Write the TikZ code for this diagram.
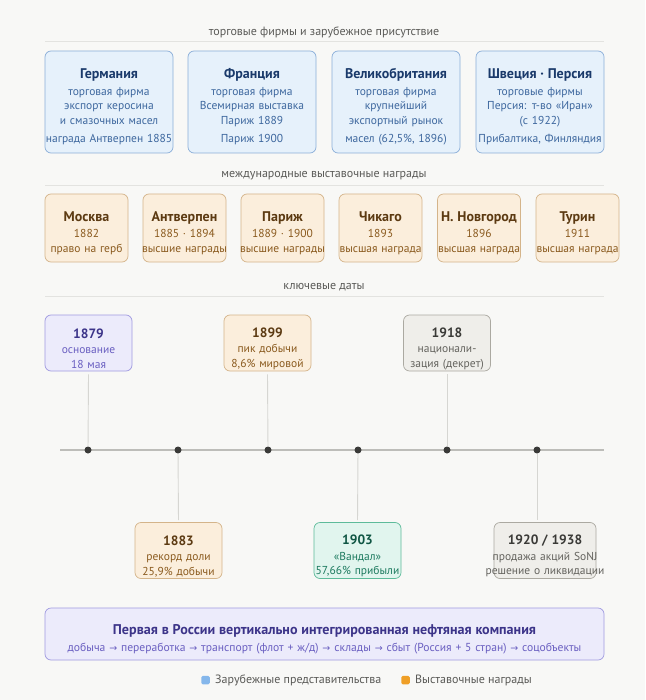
\documentclass[tikz,border=0pt]{standalone}
\usepackage{fontspec}
\setmainfont{PT Sans}
\newfontfamily\pfeilfont{DejaVu Sans}
\usetikzlibrary{positioning}
\definecolor{papier}{HTML}{F8F8F6}
\definecolor{kopftext}{HTML}{5A5A57}
\definecolor{linie}{HTML}{E3E3E0}
\definecolor{achse}{HTML}{BDBDB9}
\definecolor{stiel}{HTML}{D6D6D2}
\definecolor{punkt}{HTML}{3A3A38}
\definecolor{blaufill}{HTML}{E6F1FB}
\definecolor{blaurand}{HTML}{8AAED8}
\definecolor{blautitel}{HTML}{1A3A6B}
\definecolor{blautext}{HTML}{3D679E}
\definecolor{orangefill}{HTML}{FBEEDC}
\definecolor{orangerand}{HTML}{D4B48A}
\definecolor{orangetitel}{HTML}{5C3A12}
\definecolor{orangetext}{HTML}{8A5A1E}
\definecolor{lilafill}{HTML}{ECEBFB}
\definecolor{lilarand}{HTML}{A09AE0}
\definecolor{lilatitel}{HTML}{3C3489}
\definecolor{lilatext}{HTML}{6A5FC1}
\definecolor{gruenfill}{HTML}{E1F5EE}
\definecolor{gruenrand}{HTML}{5DBB9A}
\definecolor{gruentitel}{HTML}{0F5543}
\definecolor{gruentext}{HTML}{1D7A5F}
\definecolor{graufill}{HTML}{EFEEEA}
\definecolor{graurand}{HTML}{ABA9A1}
\definecolor{grautitel}{HTML}{3A3A37}
\definecolor{grautext}{HTML}{64635E}
\definecolor{legblau}{HTML}{85B7EB}
\definecolor{legorange}{HTML}{EF9F27}
\newcommand{\titel}[2]{{\rule{0pt}{20pt}\fontsize{14}{16}\selectfont\bfseries\color{#1}#2}}
\newcommand{\datum}[2]{{\rule{0pt}{21pt}\fontsize{13.5}{16}\selectfont\bfseries\color{#1}#2}}
\newcommand{\breit}[1]{\makebox[\hsize]{#1}}
\newcommand{\pf}{{\pfeilfont\fontsize{9.5}{11}\selectfont →}}

\begin{document}
\begin{tikzpicture}[x=1pt, y=-1pt, font=\fontsize{11.5}{14.5}\selectfont]

    % --- Definition der Stile ---
    \tikzset{
        card/.style={rectangle, rounded corners=6pt, line width=0.7pt, align=center, inner sep=0pt},
        firmcard/.style={card, fill=blaufill, draw=blaurand, text=blautext, minimum width=128pt, minimum height=102pt, text width=126pt},
        awardcard/.style={card, fill=orangefill, draw=orangerand, text=orangetext, minimum width=83pt, minimum height=68pt, text width=83pt},
        datecard/.style={card, minimum width=87pt, minimum height=56pt, text width=85pt},
        orangedate/.style={datecard, fill=orangefill, draw=orangerand, text=orangetext},
        liladate/.style={datecard, fill=lilafill, draw=lilarand, text=lilatext},
        gruendate/.style={datecard, fill=gruenfill, draw=gruenrand, text=gruentext},
        graudate/.style={datecard, fill=graufill, draw=graurand, text=grautext},
        kopf/.style={text=kopftext, font=\fontsize{12}{14}\selectfont},
        regel/.style={draw=linie, line width=0.8pt},
        dot/.style={circle, fill=punkt, inner sep=0pt, minimum size=7pt},
        stem/.style={draw=stiel, line width=0.9pt},
        legsq/.style={rectangle, rounded corners=1.5pt, inner sep=0pt, minimum size=8.5pt},
        legtext/.style={right, text=kopftext, font=\fontsize{12}{14}\selectfont, inner sep=0pt}
    }

    % --- Hintergrund ---
    \fill[papier] (0,0) rectangle (645,700);
    \useasboundingbox (0,0) rectangle (645,700);

    % --- Handelsfirmen ---
    \node[kopf] (kopfA) at (324,32) {торговые фирмы и зарубежное присутствие};
    \draw[regel] (45,41) -- (604,41);

    \node[firmcard] (ger) at (109,102) {\titel{blautitel}{Германия}\\[2pt]торговая фирма\\экспорт керосина\\и смазочных масел\\[4pt]\breit{награда Антверпен 1885}};
    \node[firmcard] (fra) at (252,102) {\titel{blautitel}{Франция}\\[2pt]торговая фирма\\Всемирная выставка\\Париж 1889\\[4pt]Париж 1900};
    \node[firmcard] (gbr) at (396,102) {\titel{blautitel}{Великобритания}\\[2pt]торговая фирма\\крупнейший\\экспортный рынок\\[4pt]масел (62,5\%, 1896)};
    \node[firmcard] (swe) at (540,102) {\titel{blautitel}{Швеция · Персия}\\[2pt]торговые фирмы\\Персия: т-во «Иран»\\(с 1922)\\[4pt]\breit{Прибалтика, Финляндия}};

    % --- Ausstellungspreise ---
    \node[kopf] (kopfB) at (324,176) {международные выставочные награды};
    \draw[regel] (45,185) -- (604,185);

    \node[awardcard] (msk) at (86.5,228)  {\titel{orangetitel}{Москва}\\[2pt]1882\\право на герб};
    \node[awardcard] (ant) at (184.5,228) {\titel{orangetitel}{Антверпен}\\[2pt]1885 · 1894\\\breit{высшие награды}};
    \node[awardcard] (par) at (282.5,228) {\titel{orangetitel}{Париж}\\[2pt]1889 · 1900\\\breit{высшие награды}};
    \node[awardcard] (chi) at (380.5,228) {\titel{orangetitel}{Чикаго}\\[2pt]1893\\\breit{высшая награда}};
    \node[awardcard] (nno) at (479,228)   {\titel{orangetitel}{Н. Новгород}\\[2pt]1896\\\breit{высшая награда}};
    \node[awardcard] (tur) at (577.5,228) {\titel{orangetitel}{Турин}\\[2pt]1911\\\breit{высшая награда}};

    % --- Zeitachse ---
    \node[kopf] (kopfC) at (324,287) {ключевые даты};
    \draw[regel] (45,296) -- (604,296);

    \coordinate (achseL) at (60,450);
    \coordinate (achseR) at (604,450);
    \draw[draw=achse, line width=1.2pt] (achseL) -- (achseR);

    \node[dot] (d1879) at (88,450) {};
    \node[dot] (d1883) at (178,450) {};
    \node[dot] (d1899) at (268,450) {};
    \node[dot] (d1903) at (358,450) {};
    \node[dot] (d1918) at (447,450) {};
    \node[dot] (d1920) at (537,450) {};

    % obere Karten
    \node[liladate]   (k1879) at (88.5,343) {\datum{lilatitel}{1879}\\[1pt]основание\\18 мая};
    \node[orangedate] (k1899) at (267.5,343) {\datum{orangetitel}{1899}\\[1pt]пик добычи\\8,6\% мировой};
    \node[graudate]   (k1918) at (447,343) {\datum{grautitel}{1918}\\[1pt]национали-\\зация (декрет)};

    % untere Karten
    \node[orangedate] (k1883) at (178.5,550.5) {\datum{orangetitel}{1883}\\[1pt]рекорд доли\\25,9\% добычи};
    \node[gruendate]  (k1903) at (357.5,550.5) {\datum{gruentitel}{1903}\\[1pt]«Вандал»\\\breit{57,66\% прибыли}};
    \node[graudate, minimum width=102pt, text width=100pt] (k1920) at (545,550.5) {\datum{grautitel}{1920 / 1938}\\[1pt]\breit{продажа акций SoNJ}\\\breit{решение о ликвидации}};

    % Stiele
    \draw[stem] ([yshift=-3pt]k1879.south) -- (d1879);
    \draw[stem] ([yshift=-3pt]k1899.south) -- (d1899);
    \draw[stem] ([yshift=-3pt]k1918.south) -- (d1918);
    \draw[stem, shorten >=2pt] (d1883) -- (k1883.north);
    \draw[stem, shorten >=2pt] (d1903) -- (k1903.north);
    \draw[stem, shorten >=2pt] (d1920) -- (d1920 |- k1920.north);

    % --- Zusammenfassung ---
    \node[card, fill=lilafill, draw=lilarand, text=lilatext, minimum width=559pt, minimum height=52pt, text width=555pt] (vink) at (324.5,634)
        {{\rule{0pt}{21pt}\fontsize{14.1}{17}\selectfont\bfseries\color{lilatitel}Первая в России вертикально интегрированная нефтяная компания}\\[2pt]
         {\fontsize{11.6}{14}\selectfont добыча \pf{} переработка \pf{} транспорт (флот + ж/д) \pf{} склады \pf{} сбыт (Россия + 5 стран) \pf{} соцобъекты}};

    % --- Legende ---
    \node[legsq, fill=legblau] (legA) at (205.5,680) {};
    \node[legtext] (legAtxt) at (215,680) {Зарубежные представительства};
    \node[legsq, fill=legorange] (legB) at (405.5,680) {};
    \node[legtext] (legBtxt) at (415,680) {Выставочные награды};

\end{tikzpicture}
\end{document}
